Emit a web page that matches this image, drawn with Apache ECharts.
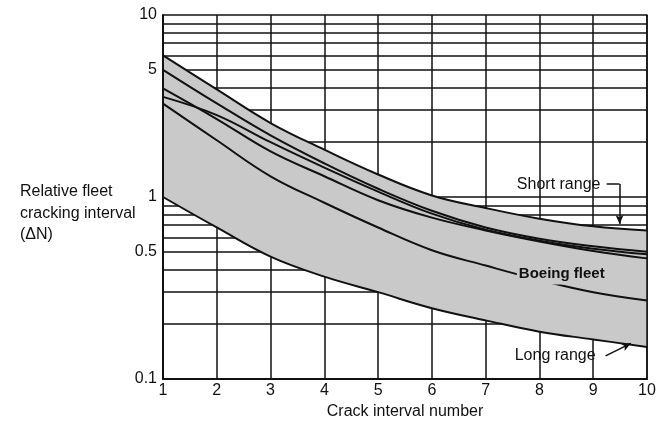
<!DOCTYPE html>
<html>
<head>
<meta charset="utf-8">
<script src="https://cdn.jsdelivr.net/npm/echarts@6/dist/echarts.min.js"></script>
<style>
  html, body { margin: 0; padding: 0; background: #ffffff; }
  #chart { width: 670px; height: 421px; }
</style>
</head>
<body>
<div id="chart"></div>
<script>
// Crack interval number (x axis)
const crackIntervals = [1, 2, 3, 4, 5, 6, 7, 8, 9, 10];

// Upper edge of the short-range band
const shortRangeUpper = [6.0, 3.9, 2.55, 1.82, 1.33, 1.02, 0.87, 0.76, 0.69, 0.655];
// Individual fleet curves inside the band
const fleetCurveB = [5.0, 3.27, 2.18, 1.53, 1.11, 0.84, 0.68, 0.59, 0.536, 0.5];
const fleetCurveC = [3.95, 2.68, 1.78, 1.3, 0.96, 0.77, 0.655, 0.57, 0.505, 0.46];
const fleetCurveD = [3.55, 2.82, 2.0, 1.45, 1.07, 0.81, 0.66, 0.575, 0.52, 0.484];
// Boeing fleet average
const boeingFleet = [3.26, 2.05, 1.3, 0.93, 0.68, 0.51, 0.42, 0.35, 0.3, 0.27];
// Lower edge of the long-range band
const longRangeLower = [1.0, 0.68, 0.47, 0.365, 0.3, 0.245, 0.21, 0.182, 0.165, 0.15];

// Horizontal log grid lines and labelled y values
const yGridValues = [0.2, 0.3, 0.4, 0.5, 0.6, 0.7, 0.8, 0.9, 1, 2, 3, 4, 5, 6, 7, 8, 9, 10];
const yLabelValues = [0.1, 0.5, 1, 5, 10];

const INK = '#111111';
const BAND = '#c9c9c9';
const FONT = '"Liberation Sans", Arial, Helvetica, sans-serif';
const SMOOTH = 0.4;

const pairs = (ys) => crackIntervals.map((x, i) => [x, ys[i]]);

// Same cubic smoothing the line series uses, so the filled envelope edges
// follow the drawn boundary curves.
const clamp = (v, a, b) => Math.max(Math.min(v, Math.max(a, b)), Math.min(a, b));
function smoothSegment(pts, smooth, start) {
  let d = (start ? 'M' : 'L') + pts[0][0] + ' ' + pts[0][1];
  let cpx0 = pts[0][0], cpy0 = pts[0][1];
  let prevX = pts[0][0], prevY = pts[0][1];
  const n = pts.length;
  for (let k = 1; k < n; k++) {
    const x = pts[k][0], y = pts[k][1];
    let cpx1 = x, cpy1 = y, nextCpx0 = x, nextCpy0 = y;
    if (k < n - 1) {
      const nextX = pts[k + 1][0], nextY = pts[k + 1][1];
      let vx = nextX - prevX, vy = nextY - prevY;
      const lenPrev = Math.hypot(x - prevX, y - prevY);
      const lenNext = Math.hypot(nextX - x, nextY - y);
      const ratio = lenNext / (lenNext + lenPrev);
      nextCpx0 = clamp(x + vx * smooth * ratio, nextX, x);
      nextCpy0 = clamp(y + vy * smooth * ratio, nextY, y);
      vx = nextCpx0 - x; vy = nextCpy0 - y;
      cpx1 = clamp(x - vx * lenPrev / lenNext, prevX, x);
      cpy1 = clamp(y - vy * lenPrev / lenNext, prevY, y);
      vx = x - cpx1; vy = y - cpy1;
      nextCpx0 = x + vx * lenNext / lenPrev;
      nextCpy0 = y + vy * lenNext / lenPrev;
    }
    d += ' C' + [cpx0, cpy0, cpx1, cpy1, x, y].join(' ');
    cpx0 = nextCpx0; cpy0 = nextCpy0;
    prevX = x; prevY = y;
  }
  return d;
}

const curve = (name, ys) => ({
  name,
  type: 'line',
  data: pairs(ys),
  smooth: SMOOTH,
  symbol: 'none',
  silent: true,
  z: 4,
  lineStyle: { color: INK, width: 2 }
});

const labelPoint = (name, coord, extra) => ({
  symbol: 'circle',
  symbolSize: 0,
  silent: true,
  label: Object.assign({
    show: true, position: 'right', distance: 0,
    fontSize: 16, color: INK, fontFamily: FONT,
    formatter: '{b}'
  }, extra || {}),
  data: [{ name, coord }]
});

const chart = echarts.init(document.getElementById('chart'), null, { renderer: 'canvas' });

chart.setOption({
  animation: false,
  backgroundColor: '#ffffff',
  textStyle: { fontFamily: FONT, color: INK },
  grid: { left: 163, right: 23, top: 15, bottom: 42, outerBoundsMode: 'none', containLabel: false },
  xAxis: {
    type: 'value',
    min: 1,
    max: 10,
    interval: 1,
    name: 'Crack interval number',
    nameLocation: 'middle',
    nameGap: 24,
    nameTextStyle: { fontSize: 16, color: INK, fontFamily: FONT },
    axisLine: { show: true, lineStyle: { color: INK, width: 2 } },
    axisTick: { show: false },
    axisLabel: { fontSize: 16, color: INK, margin: 4, fontFamily: FONT },
    splitLine: { show: true, lineStyle: { color: INK, width: 1.5 } }
  },
  yAxis: [{
    type: 'log',
    logBase: 10,
    min: 0.1,
    max: 10,
    z: 10,
    axisLine: { show: true, onZero: false, lineStyle: { color: INK, width: 2 } },
    axisTick: { show: false },
    axisLabel: {
      fontSize: 16, color: INK, margin: 6, fontFamily: FONT,
      customValues: yLabelValues,
      formatter: (v) => String(+v.toPrecision(3))
    },
    splitLine: { show: false }
  }, {
    type: 'log',
    logBase: 10,
    min: 0.1,
    max: 10,
    position: 'right',
    z: 10,
    axisLine: { show: true, onZero: false, lineStyle: { color: INK, width: 1.5 } },
    axisTick: { show: false },
    axisLabel: { show: false },
    splitLine: { show: false }
  }],
  graphic: [{
    type: 'text',
    left: 20,
    top: 181,
    style: {
      text: 'Relative fleet\ncracking interval\n(ΔN)',
      font: '16px ' + FONT,
      fill: INK,
      lineHeight: 21.5
    }
  }],
  series: [
    // Shaded envelope between the short-range upper edge and long-range lower edge
    {
      name: 'Envelope',
      type: 'custom',
      coordinateSystem: 'cartesian2d',
      silent: true,
      clip: false,
      z: 2,
      data: [[1, 1]],
      renderItem: (params, api) => {
        const top = crackIntervals.map((x, i) => api.coord([x, shortRangeUpper[i]]));
        const bottom = crackIntervals.map((x, i) => api.coord([x, longRangeLower[i]])).reverse();
        const d = smoothSegment(top, SMOOTH, true) + ' ' + smoothSegment(bottom, SMOOTH, false) + ' Z';
        return {
          type: 'path',
          shape: { pathData: d },
          style: { fill: BAND, stroke: null }
        };
      }
    },
    // Long-range lower edge; also carries the horizontal log grid lines
    Object.assign(curve('Long range', longRangeLower), {
      markLine: {
        z: 1,
        silent: true,
        symbol: ['none', 'none'],
        label: { show: false },
        lineStyle: { color: INK, width: 1.5, type: 'solid' },
        emphasis: { disabled: true },
        data: yGridValues.map((v) => ({ yAxis: v }))
      },
      markPoint: labelPoint('Long range', [7.54, 0.134])
    }),
    Object.assign(curve('Short range', shortRangeUpper), {
      markPoint: labelPoint('Short range', [7.58, 1.17]),
      markLine: {
        silent: true,
        z: 6,
        label: { show: false },
        lineStyle: { color: INK, width: 1.5, type: 'solid' },
        emphasis: { disabled: true },
        data: [
          [{ coord: [9.25, 1.18], symbol: 'none' }, { coord: [9.49, 1.18], symbol: 'none' }],
          [{ coord: [9.49, 1.18], symbol: 'none' }, { coord: [9.49, 0.71], symbol: 'arrow', symbolSize: [6, 9] }],
          [{ coord: [9.23, 0.134], symbol: 'none' },
           { coord: [9.70, 0.157], symbol: 'arrow', symbolSize: [6, 9] }]
        ]
      }
    }),
    curve('Fleet B', fleetCurveB),
    curve('Fleet C', fleetCurveC),
    curve('Fleet D', fleetCurveD),
    Object.assign(curve('Boeing fleet', boeingFleet), {
      markPoint: labelPoint('Boeing fleet', [7.58, 0.378], {
        fontSize: 15, fontWeight: 'bold',
        backgroundColor: BAND, padding: [3, 2, 3, 2]
      })
    })
  ]
});
</script>
</body>
</html>
